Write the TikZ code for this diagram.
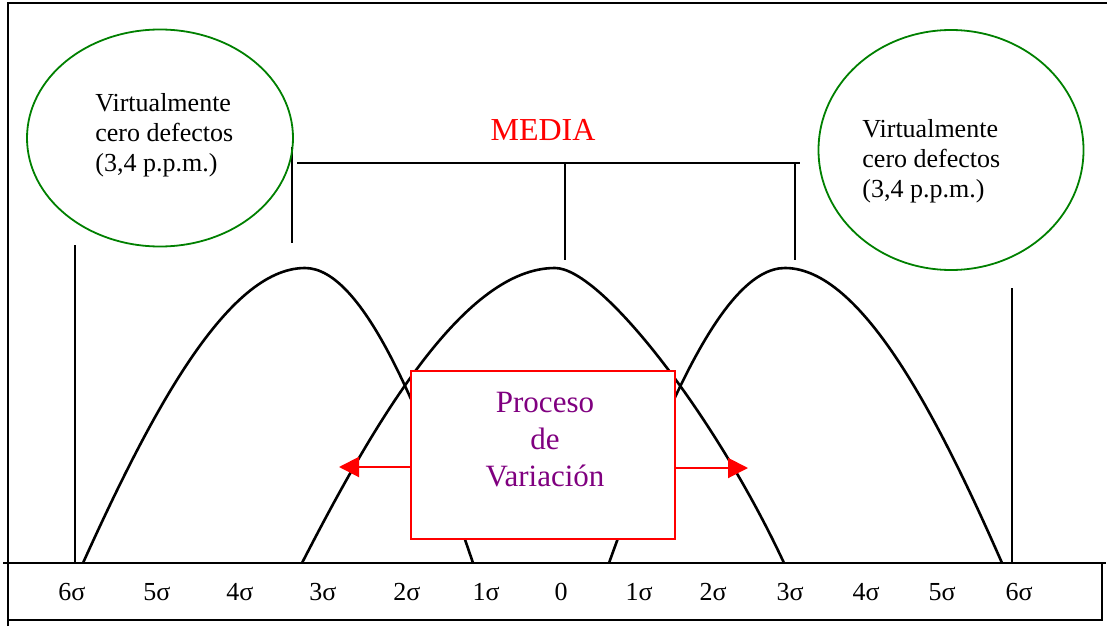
\documentclass[tikz,border=0pt]{standalone}
\usepackage{fontspec}
\setmainfont{Liberation Serif}
\usepackage{tikz}
\usetikzlibrary{shapes.geometric,arrows.meta}
\definecolor{verde}{RGB}{0,128,0}
\definecolor{morado}{RGB}{128,0,128}

\begin{document}
\begin{tikzpicture}[x=0.5pt,y=-0.5pt,
		nube/.style={draw=verde,line width=0.9pt,ellipse,inner sep=0pt},
		textonube/.style={align=left,inner sep=0pt,anchor=west,font=\fontsize{13}{15}\selectfont},
		campana/.style={line width=1.3pt},
		linea/.style={line width=0.9pt},
		sigma/.style={font=\fontsize{13}{15}\selectfont},
		flecha/.style={red,line width=1pt,-{Triangle[length=10pt,width=10pt]}}]
		\useasboundingbox (0,0) rectangle (1107,626);
		% marco
		\draw[line width=1.2pt] (8,626) -- (8,3) -- (1107,3);
		\draw[linea] (3,563) -- (1106,563);
		\draw[linea] (1102,563) -- (1102,620) -- (8,620);
		\foreach \x/\t/\n in {72/6σ/a, 157/5σ/b, 240/4σ/c, 323/3σ/d, 407/2σ/e, 486/1σ/f, 561/0/g,
			639/1σ/h, 713/2σ/i, 790/3σ/j, 866/4σ/k, 942/5σ/l, 1019/6σ/m}
			\node[sigma] (s\n) at (\x,592) {\t};
		% campanas
		\draw[campana] (83,563) .. controls (150,415) and (227,268) .. (305,268)
			.. controls (364,268) and (423,415) .. (473,563);
		\draw[campana] (302,563) .. controls (378,415) and (466,268) .. (555,268)
			.. controls (601,268) and (715,415) .. (784,563);
		\draw[campana] (609,563) .. controls (662,415) and (723,268) .. (785,268)
			.. controls (861,268) and (937,415) .. (1002,563);
		% limites
		\draw[linea] (75,245) -- (75,563);
		\draw[linea] (1012,288) -- (1012,563);
		% media
		\node[red,font=\fontsize{16}{19}\selectfont] (media) at (543,130) {MEDIA};
		\draw[linea] (297,163) -- (800,163);
		\draw[linea] (292,147) -- (292,243);
		\draw[linea] (565,163) -- (565,260);
		\draw[linea] (795,163) -- (795,260);
		% defectos
		\node[nube,minimum width=133pt,minimum height=108.5pt] (nubeizq) at (160,138) {};
		\node[textonube] (txtizq) at (95,135) {Virtualmente\\cero defectos\\(3,4 p.p.m.)};
		\node[nube,minimum width=132.5pt,minimum height=120pt] (nubeder) at (951,150) {};
		\node[textonube] (txtder) at (862,161) {Virtualmente\\cero defectos\\(3,4 p.p.m.)};
		% proceso
		\node[draw=red,fill=white,line width=1pt,minimum width=132pt,minimum height=84pt] (caja) at (543,455) {};
		\node[morado,align=center,font=\fontsize{15.5}{18.5}\selectfont] (txtcaja) at (545,440) {Proceso\\de\\Variación};
		\draw[flecha] ([yshift=-6pt]caja.west) -- ++(-71,0);
		\draw[flecha] ([yshift=-6.5pt]caja.east) -- ++(72,0);
	\end{tikzpicture}
\end{document}
